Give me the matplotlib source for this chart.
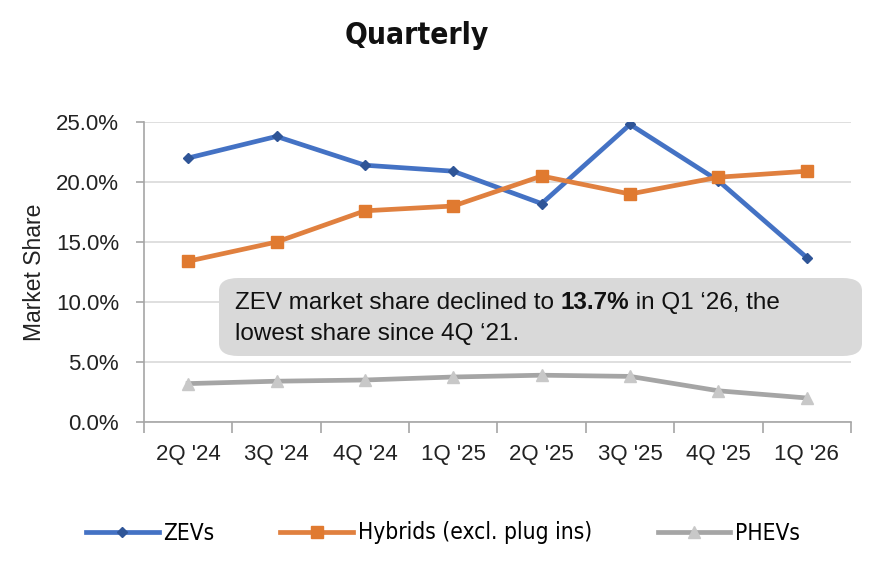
import matplotlib
matplotlib.use("Agg")
import matplotlib.pyplot as plt
from matplotlib.patches import FancyBboxPatch
from matplotlib.ticker import FuncFormatter, FixedLocator
from matplotlib.font_manager import FontProperties

quarters = ["2Q '24", "3Q '24", "4Q '24", "1Q '25", "2Q '25", "3Q '25", "4Q '25", "1Q '26"]
zevs = [22.0, 23.8, 21.4, 20.9, 18.2, 24.8, 20.1, 13.7]
hybrids = [13.4, 15.0, 17.6, 18.0, 20.5, 19.0, 20.4, 20.9]
phevs = [3.2, 3.4, 3.5, 3.75, 3.9, 3.8, 2.6, 2.0]

plt.rcParams['font.family'] = ['Liberation Sans', 'DejaVu Sans']

fig = plt.figure(figsize=(8.86, 5.78), dpi=100)
ax = fig.add_axes([0.1625, 0.2699, 0.798, 0.519])

x = list(range(len(quarters)))
ax.plot(x, zevs, color='#4472C4', lw=3.4, marker='D', ms=5.5,
        mfc='#2F5597', mec='#2F5597', label='ZEVs', zorder=4)
ax.plot(x, hybrids, color='#E0803F', lw=3.4, marker='s', ms=8.5,
        mfc='#E07A30', mec='#E07A30', label='Hybrids (excl. plug ins)', zorder=4)
ax.plot(x, phevs, color='#A5A5A5', lw=3.4, marker='^', ms=8.5,
        mfc='#C8C8C8', mec='#C8C8C8', label='PHEVs', zorder=4)

ax.set_xlim(-0.5, len(quarters) - 0.5)
ax.set_ylim(0, 25)
ax.set_yticks([0, 5, 10, 15, 20, 25])
ax.yaxis.set_major_formatter(FuncFormatter(lambda v, p: f"{v:.1f}%"))
ax.set_xticks(x)
ax.set_xticklabels(quarters)
ax.xaxis.set_minor_locator(FixedLocator([i - 0.5 for i in range(len(quarters) + 1)]))
ax.tick_params(axis='x', which='major', length=0, pad=16, labelsize=16, colors='#222222')
ax.tick_params(axis='x', which='minor', length=8, width=1.2, color='#A6A6A6', direction='out')
ax.tick_params(axis='y', length=6, width=1.2, color='#A6A6A6', labelsize=16, pad=12, labelcolor='#222222')

ax.grid(axis='y', color='#D9D9D9', lw=1.2, zorder=0)
ax.set_axisbelow(True)
for s in ['top', 'right']:
    ax.spines[s].set_visible(False)
for s in ['left', 'bottom']:
    ax.spines[s].set_color('#A6A6A6')
    ax.spines[s].set_linewidth(1.2)

ax.set_ylabel('Market Share', fontsize=16.5, color='#222222', labelpad=7)

fig.text(417 / 886, 1 - 35 / 578, 'Quarterly', ha='center', va='center', fontsize=21.5,
         fontweight='heavy', fontstretch='condensed', family='DejaVu Sans', color='#111111')

# annotation box
box = FancyBboxPatch((219 / 886, 1 - 356 / 578), (862 - 219) / 886, (356 - 278) / 578,
                     boxstyle='round,pad=0,rounding_size=0.022', transform=fig.transFigure,
                     facecolor='#D9D9D9', edgecolor='none', zorder=5)
fig.patches.append(box)

renderer = fig.canvas.get_renderer()
parts = [("ZEV market share declined to ", 'normal'), ("13.7%", 'bold'),
         (" in Q1 ‘26, the", 'normal')]
xpos = 235 / 886
y1 = 1 - 309 / 578
for txt, wt in parts:
    t = fig.text(xpos, y1, txt, fontsize=17.5, fontweight=wt, va='baseline', ha='left',
                 color='#111111', zorder=6)
    bb = t.get_window_extent(renderer=renderer)
    xpos = bb.x1 / fig.bbox.width
fig.text(235 / 886, 1 - 340 / 578, "lowest share since 4Q ‘21.",
         fontsize=17.5, va='baseline', ha='left', color='#111111', zorder=6)

leg = fig.legend(loc='center', bbox_to_anchor=(443 / 886, 1 - 533 / 578), ncol=3, frameon=False,
                 handlelength=3.2, columnspacing=2.9, handletextpad=0.22,
                 prop=FontProperties(family='DejaVu Sans', stretch='condensed', size=16.3))

fig.savefig('out.png', dpi=100)
